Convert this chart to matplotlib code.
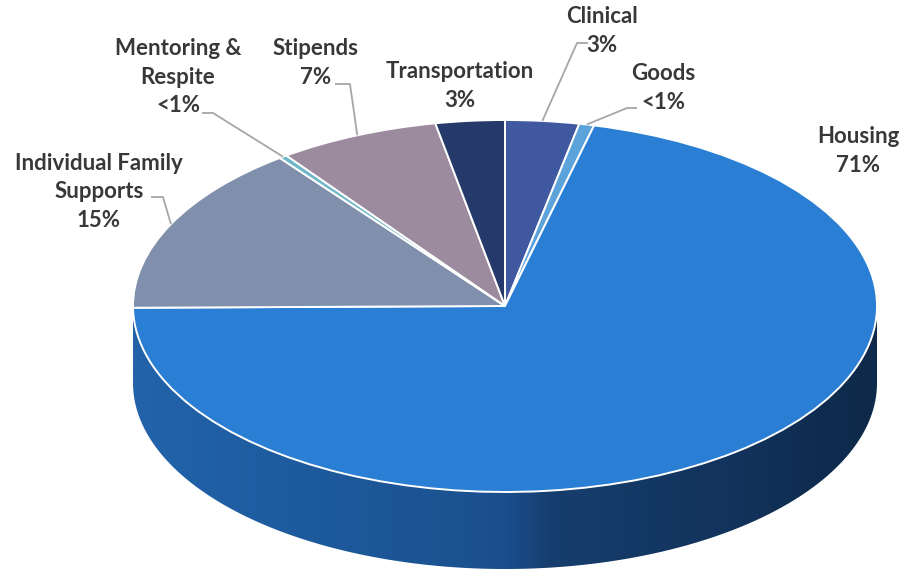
import numpy as np
import matplotlib
matplotlib.use("Agg")
import matplotlib.pyplot as plt
from matplotlib.patches import Wedge, Polygon
from matplotlib.transforms import Affine2D
from matplotlib.colors import LinearSegmentedColormap

# ---- data (clockwise from 12 o'clock) ----
categories = ["Clinical", "Goods", "Housing", "Individual Family Supports",
              "Mentoring & Respite", "Stipends", "Transportation"]
values = [3.2, 0.65, 71.0, 14.8, 0.35, 7.0, 3.0]
label_texts = ["Clinical\n3%", "Goods\n<1%", "Housing\n71%",
               "Individual Family\nSupports\n15%", "Mentoring &\nRespite\n<1%",
               "Stipends\n7%", "Transportation\n3%"]
colors = ["#3F58A0", "#5BA3DA", "#2A7ED4", "#8090AC", "#6FB7C8", "#9C8B9E", "#253A6A"]

# ---- layout ----
W, H = 913, 572
cx, cy = 505, H - 306
rx, ry = 372, 186
depth = 77
# label centre positions (pixel coords, y from top) and leader-line elbow
label_pos = [(602, 31), (663, 88), (858, 151), (99, 192), (178, 77), (316, 63), (460, 86)]
leaders = {  # index: (start point, elbow point)
    0: ((588, 43), (577, 43)),
    1: ((637, 108), (627, 108)),
    3: ((151, 197), (163, 197)),
    4: ((202, 113), (213, 113)),
    5: ((335, 84), (350, 84)),
}

fig = plt.figure(figsize=(W / 100, H / 100), dpi=100)
ax = fig.add_axes([0, 0, 1, 1])
ax.set_xlim(0, W)
ax.set_ylim(0, H)
ax.axis("off")

# ---- side wall (front half) ----
th = np.linspace(np.pi / 2, 3 * np.pi / 2, 300)  # clockwise-from-top angles
xt = cx + rx * np.sin(th)
yt = cy + ry * np.cos(th)
side = np.vstack([np.column_stack([xt, yt]),
                  np.column_stack([xt[::-1], yt[::-1] - depth])])
side_poly = Polygon(side, closed=True, facecolor="none", edgecolor="none")
ax.add_patch(side_poly)
cmap = LinearSegmentedColormap.from_list(
    "side", [(0.0, "#2263AA"), (0.25, "#1D5A9C"), (0.5, "#1A4F8E"),
             (0.56, "#163E6E"), (0.8, "#12335C"), (1.0, "#0E2949")])
grad = np.linspace(0, 1, 512)[None, :]
im = ax.imshow(grad, cmap=cmap, extent=[cx - rx, cx + rx, cy - ry - depth, cy],
               aspect="auto", zorder=1)
im.set_clip_path(side_poly)
ax.set_xlim(0, W)
ax.set_ylim(0, H)

# ---- top face wedges ----
tr = Affine2D().scale(rx, ry).translate(cx, cy) + ax.transData
fracs = np.array(values) / np.sum(values)
cum = np.concatenate([[0], np.cumsum(fracs)])
for i, c in enumerate(colors):
    t1 = 90 - cum[i + 1] * 360
    t2 = 90 - cum[i] * 360
    w = Wedge((0, 0), 1, t1, t2, facecolor=c, edgecolor="white",
              linewidth=1.4, transform=tr, zorder=2)
    ax.add_patch(w)

# ---- labels and leader lines ----
font = dict(family=["Lato", "DejaVu Sans"], weight="bold", fontsize=16,
            color="#383838", linespacing=1.42)
for i, txt in enumerate(label_texts):
    lx, ly = label_pos[i]
    ax.text(lx, H - ly, txt, ha="center", va="center", zorder=4, **font)
    if i in leaders:
        (sx, sy), (ex, ey) = leaders[i]
        mid = (cum[i] + cum[i + 1]) / 2 * 2 * np.pi
        px = cx + rx * np.sin(mid)
        py = cy + ry * np.cos(mid)
        ax.plot([sx, ex, px], [H - sy, H - ey, py], color="#A6A6A6",
                linewidth=1.3, zorder=3, solid_capstyle="butt")

fig.savefig("out.png", dpi=100)
